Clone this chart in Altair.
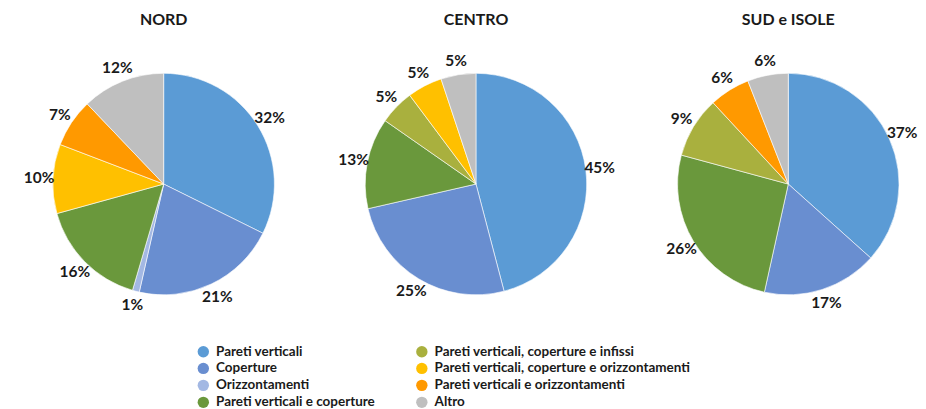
import altair as alt
import pandas as pd

regions = ["NORD", "CENTRO", "SUD e ISOLE"]
categories = [
    "Pareti verticali",
    "Coperture",
    "Orizzontamenti",
    "Pareti verticali e coperture",
    "Pareti verticali, coperture e infissi",
    "Pareti verticali, coperture e orizzontamenti",
    "Pareti verticali e orizzontamenti",
    "Altro",
]
colors = ["#5B9BD5", "#698ED0", "#A3B8E3", "#6A983C", "#A9B03E", "#FFC000", "#FF9900", "#BFBFBF"]
nord = [32, 21, 1, 16, 0, 10, 7, 12]
centro = [45, 25, 0, 13, 5, 5, 0, 5]
sud = [37, 17, 0, 26, 9, 0, 6, 6]

rows = []
for region, vals in zip(regions, [nord, centro, sud]):
    for i, (c, v) in enumerate(zip(categories, vals)):
        if v > 0:
            rows.append(dict(region=region, category=c, value=v, idx=i, label=f"{v}%"))
df = pd.DataFrame(rows)

FONT = "Lato"
color_scale = alt.Scale(domain=categories, range=colors)
legend = alt.Legend(
    title=None, orient="none", legendX=161, legendY=291, columns=2,
    symbolType="circle", symbolSize=130, symbolStrokeWidth=0,
    labelFont=FONT, labelFontSize=13.5, labelFontWeight="bold", labelColor="#1a1a1a",
    labelLimit=400, rowPadding=2, columnPadding=40, symbolOffset=0, labelOffset=6,
)


def pie(region):
    base = alt.Chart(df).transform_filter(alt.datum.region == region)
    arcs = base.mark_arc(outerRadius=111, stroke="white", strokeWidth=0.6).encode(
        theta=alt.Theta("value:Q", stack=True),
        color=alt.Color("category:N", scale=color_scale, legend=legend),
        order=alt.Order("idx:Q"),
    )
    labels = base.mark_text(
        radius=125, font=FONT, fontSize=15.5, fontWeight="bold", color="#1a1a1a"
    ).encode(
        theta=alt.Theta("value:Q", stack=True),
        text="label:N",
        detail="category:N",
        order=alt.Order("idx:Q"),
    )
    return alt.layer(arcs, labels).properties(
        width=256, height=260,
        title=alt.TitleParams(region, font=FONT, fontSize=16, fontWeight="bold",
                              color="#1a1a1a", offset=26, anchor="middle"),
    )


chart = alt.hconcat(*[pie(r) for r in regions], spacing=57, bounds="flush").properties(
    padding={"left": 15, "top": 3, "right": 0, "bottom": 0}
).configure_view(stroke=None)

chart.save("out.html", embed_options={"renderer": "svg", "actions": False})
